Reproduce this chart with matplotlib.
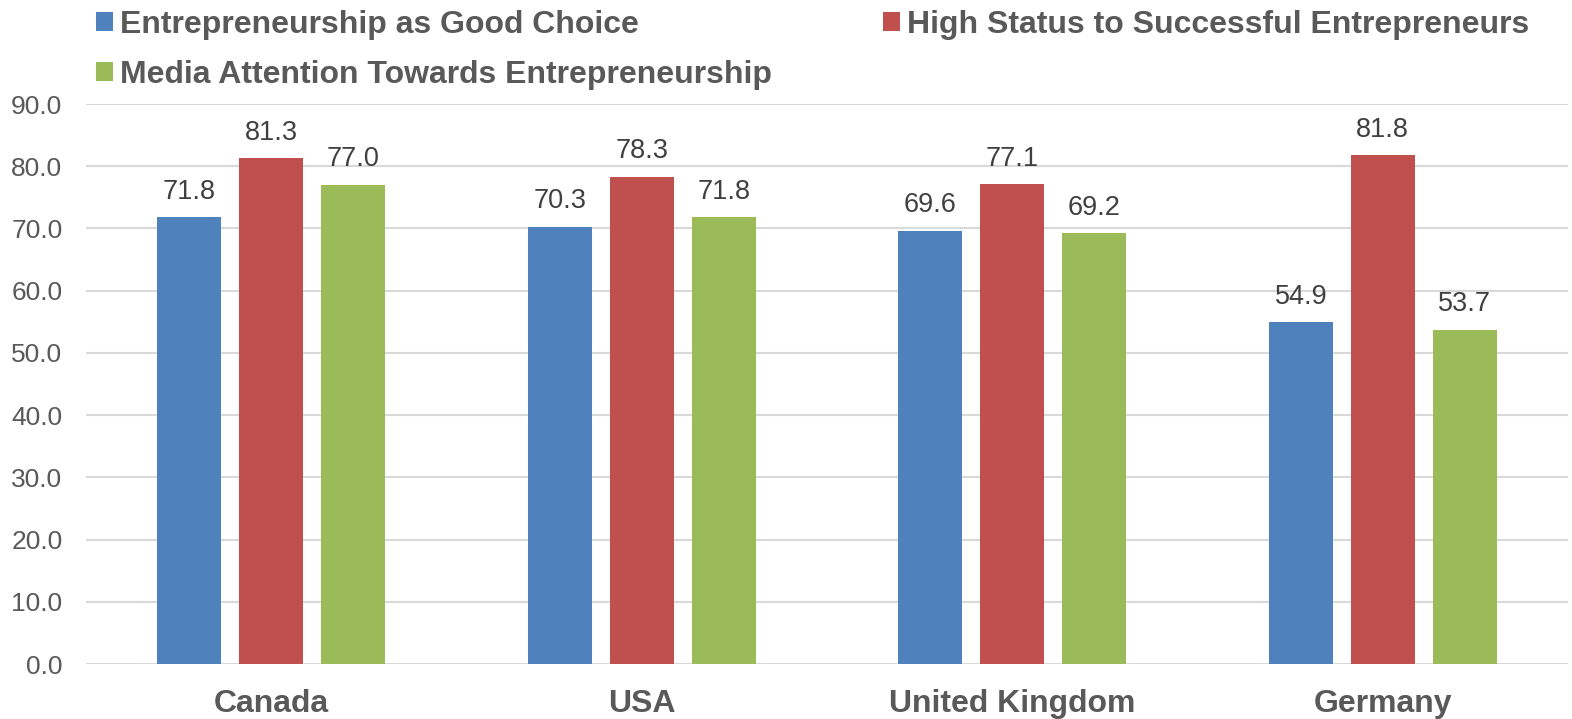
import matplotlib
matplotlib.use("Agg")
import matplotlib.pyplot as plt
import numpy as np

categories = ["Canada", "USA", "United Kingdom", "Germany"]
series_names = ["Entrepreneurship as Good Choice",
                "High Status to Successful Entrepreneurs",
                "Media Attention Towards Entrepreneurship"]
good_choice = [71.8, 70.3, 69.6, 54.9]
high_status = [81.3, 78.3, 77.1, 81.8]
media_attention = [77.0, 71.8, 69.2, 53.7]
y_ticks = [0, 10, 20, 30, 40, 50, 60, 70, 80, 90]

colors = ["#4F81BD", "#C0504D", "#9BBB59"]
plt.rcParams['font.family'] = ['Liberation Sans', 'DejaVu Sans']

fig = plt.figure(figsize=(15.72, 7.19), dpi=100)
ax = fig.add_axes([86/1572, 1 - 664/719, (1568-86)/1572, (664-104)/719])

x = np.arange(len(categories))
width = 0.173
step = 0.221
handles = []
for i, (vals, name) in enumerate(zip([good_choice, high_status, media_attention], series_names)):
    bars = ax.bar(x + (i - 1) * step, vals, width, color=colors[i], label=name, zorder=3)
    handles.append(bars)
    for b, v in zip(bars, vals):
        ax.annotate(f"{v:.1f}", (b.get_x() + b.get_width() / 2, v),
                    xytext=(0, 9), textcoords="offset points",
                    ha="center", va="bottom", fontsize=19.5, color="#404040")

ax.set_xlim(-0.5, 3.5)
ax.set_ylim(0, 90)
ax.set_yticks(y_ticks)
ax.set_yticklabels([f"{t:.1f}" for t in y_ticks], fontsize=19, color="#595959")
ax.set_xticks(x)
ax.set_xticklabels(categories, fontsize=23, fontweight="bold", color="#595959")
ax.tick_params(axis="both", length=0)
ax.tick_params(axis="y", pad=17)
ax.tick_params(axis="x", pad=18)
ax.grid(axis="y", color="#D9D9D9", linewidth=1.5, zorder=0)
for s in ax.spines.values():
    s.set_visible(False)

leg = fig.legend([handles[0], handles[2], handles[1]],
                 [series_names[0], series_names[2], series_names[1]],
                 ncol=2, loc="upper left", bbox_to_anchor=(96/1572, 1 - 10/719),
                 frameon=False, fontsize=23,
                 handlelength=0.53, handleheight=0.53, handletextpad=0.22,
                 columnspacing=3.47, labelspacing=0.62, borderpad=0, borderaxespad=0)
for t in leg.get_texts():
    t.set_fontweight("bold")
    t.set_color("#595959")

fig.savefig("out.png", dpi=100)
